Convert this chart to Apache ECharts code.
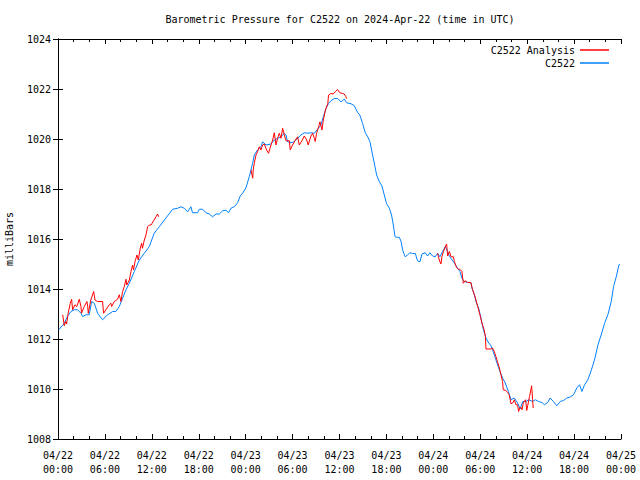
<!DOCTYPE html>
<html>
<head>
<meta charset="utf-8">
<script src="https://cdn.jsdelivr.net/npm/echarts@6/dist/echarts.min.js"></script>
<style>html,body{margin:0;padding:0;background:#fff}#c{width:640px;height:480px}</style>
</head>
<body>
<div id="c"></div>
<script>
var titleText = 'Barometric Pressure for C2522 on 2024-Apr-22 (time in UTC)';
var yName = 'milliBars';
var seriesNames = ['C2522 Analysis', 'C2522'];
var xTickLabels = ['04/22\n00:00','04/22\n06:00','04/22\n12:00','04/22\n18:00','04/23\n00:00','04/23\n06:00','04/23\n12:00','04/23\n18:00','04/24\n00:00','04/24\n06:00','04/24\n12:00','04/24\n18:00','04/25\n00:00'];

// hours since 04/22 00:00 UTC
var blueT = [0.1,0.8,1.2,1.66,2.1,2.5,2.94,3.15,3.58,4.0,4.3,4.64,5.07,5.7,6.35,7.0,7.4,7.84,8.26,8.7,9.12,9.76,10.4,11.04,11.68,12.3,12.95,13.6,14.2,14.66,15.3,15.73,16.15,16.57,17.0,17.2,17.85,18.07,18.5,18.93,19.35,19.77,20.2,20.63,21.05,21.48,21.82,22.12,22.55,22.97,23.3,23.6,24.04,24.46,24.89,25.1,25.52,25.96,26.16,26.6,27.24,27.66,28.08,28.52,28.94,29.16,29.36,29.8,30.2,30.64,31.07,31.5,31.92,32.35,32.78,33.2,33.63,33.93,34.27,34.6,34.9,35.33,35.75,36.2,36.4,36.6,36.9,37.47,37.9,38.3,38.6,38.95,39.3,39.6,39.9,40.23,40.54,40.75,41.1,41.43,41.73,42.0,42.38,42.66,42.88,43.1,43.3,43.64,43.86,44.1,44.4,44.7,45.0,45.35,45.7,45.9,46.08,46.3,46.55,46.97,47.26,47.56,47.9,48.25,48.54,48.85,49.18,49.53,49.83,50.05,50.4,50.7,51.1,51.4,51.66,51.96,52.4,52.8,52.95,53.25,53.45,53.8,54.1,54.4,54.7,55.0,55.39,55.7,56.0,56.44,56.85,57.2,57.6,57.93,58.36,58.78,59.1,59.43,59.86,60.2,60.7,61.05,61.47,61.9,62.2,62.63,62.94,63.36,63.79,64.23,64.65,65.07,65.5,65.93,66.35,66.7,67.0,67.34,67.76,68.2,68.64,69.06,69.5,69.9,70.32,70.75,71.05,71.4,71.73,71.85];
var blueP = [1012.37,1012.63,1012.9,1013.1,1013.17,1013.17,1013.03,1012.9,1012.97,1012.97,1013.5,1013.43,1013.03,1012.77,1012.97,1013.1,1013.1,1013.3,1013.63,1013.97,1014.23,1014.7,1015.16,1015.43,1015.7,1016.23,1016.49,1016.76,1017.0,1017.19,1017.23,1017.29,1017.23,1017.09,1017.29,1017.05,1017.05,1017.19,1017.19,1017.05,1017.0,1016.89,1017.0,1017.0,1017.13,1017.15,1017.05,1017.23,1017.29,1017.45,1017.72,1017.83,1018.05,1018.49,1019.03,1019.36,1019.56,1019.69,1019.89,1019.76,1019.8,1019.96,1020.03,1020.09,1020.23,1020.16,1019.89,1019.85,1019.89,1020.03,1020.16,1020.25,1020.23,1020.25,1020.23,1020.39,1020.56,1020.89,1021.22,1021.42,1021.53,1021.62,1021.62,1021.49,1021.53,1021.6,1021.45,1021.41,1021.33,1021.07,1020.96,1020.62,1020.25,1020.09,1019.89,1019.36,1018.89,1018.56,1018.29,1018.12,1017.76,1017.43,1017.23,1016.96,1016.56,1016.09,1016.07,1016.07,1015.92,1015.53,1015.29,1015.36,1015.45,1015.42,1015.42,1015.2,1015.1,1015.1,1015.4,1015.45,1015.32,1015.45,1015.32,1015.29,1015.43,1015.29,1015.5,1015.69,1015.5,1015.32,1015.16,1015.03,1014.83,1014.7,1014.43,1014.3,1014.26,1014.26,1014.03,1013.77,1013.5,1013.23,1012.83,1012.37,1012.07,1011.88,1011.72,1011.45,1011.17,1010.77,1010.44,1010.24,1009.9,1009.57,1009.64,1009.44,1009.2,1009.5,1009.5,1009.57,1009.5,1009.57,1009.5,1009.46,1009.37,1009.46,1009.64,1009.5,1009.33,1009.5,1009.54,1009.64,1009.68,1009.77,1010.04,1010.17,1009.9,1010.17,1010.37,1010.75,1011.2,1011.77,1012.2,1012.63,1012.97,1013.5,1014.1,1014.5,1014.96,1015.0];

// analysis (null = gap)
var redT = [0.6,0.8,1.0,1.1,1.3,1.57,1.74,1.87,2.17,2.4,2.72,2.94,3.0,3.36,3.7,3.8,3.87,4.2,4.56,4.73,5.07,5.7,5.83,6.13,6.56,6.77,6.86,7.2,7.62,7.84,8.05,8.26,8.48,8.7,8.8,9.12,9.33,9.54,9.66,9.85,10.1,10.27,10.52,10.7,10.8,11.04,11.25,11.46,11.68,11.9,12.23,12.53,12.74,12.87,
  18,
  24.68,24.9,24.96,25.1,25.32,25.52,25.74,25.96,26.16,26.38,26.68,26.93,27.24,27.45,27.66,27.88,28.08,28.3,28.52,28.73,28.94,29.16,29.58,29.7,30.0,30.35,30.64,30.86,31.2,31.5,31.8,32.0,32.35,32.56,32.78,32.9,33.07,33.33,33.5,33.76,33.93,34.2,34.5,34.6,34.9,35.2,35.45,35.75,36.05,36.4,36.6,36.83,36.9,
  42,
  48.54,48.76,48.97,49.1,49.3,49.56,49.7,49.83,50.05,50.27,50.56,50.7,50.8,50.98,51.2,51.4,51.66,51.83,52.05,52.4,52.8,53.0,53.25,53.45,53.67,53.96,54.22,54.5,54.66,54.73,55.37,55.58,55.79,56.0,56.2,56.44,56.65,56.85,56.94,57.28,57.5,57.7,57.93,58.15,58.36,58.57,58.78,58.9,59.1,59.2,59.35,59.5,59.8,59.95,60.07,60.3,60.4,60.57,60.7,60.77];
var redP = [1012.97,1012.53,1012.7,1012.6,1013.03,1013.43,1013.59,1013.17,1013.37,1013.3,1013.59,1013.3,1013.03,1013.3,1013.5,1013.3,1013.03,1013.56,1013.9,1013.56,1013.5,1013.5,1013.03,1013.17,1013.37,1013.43,1013.3,1013.5,1013.59,1013.77,1013.5,1013.9,1014.1,1014.39,1014.16,1014.36,1014.7,1014.96,1014.76,1015.1,1015.36,1015.16,1015.63,1015.83,1015.63,1015.96,1016.16,1016.49,1016.56,1016.56,1016.73,1016.89,1017.0,1016.89,
  null,
  1018.76,1018.43,1018.76,1019.03,1019.36,1019.49,1019.69,1019.56,1019.76,1019.8,1019.56,1019.43,1019.76,1019.96,1020.25,1019.76,1020.03,1020.23,1020.03,1020.43,1020.16,1019.93,1019.93,1019.56,1019.76,1019.96,1020.09,1019.76,1019.93,1020.12,1019.96,1019.76,1020.12,1020.23,1020.03,1019.9,1020.23,1020.49,1020.69,1020.36,1020.76,1021.16,1021.42,1021.76,1021.82,1021.8,1021.89,1021.98,1021.85,1021.82,1021.8,1021.69,1021.62,
  null,
  1015.43,1015.16,1015.0,1015.29,1015.5,1015.72,1015.8,1015.32,1015.5,1015.29,1015.29,1015.1,1015.0,1014.86,1014.79,1014.79,1014.7,1014.23,1014.33,1014.26,1014.26,1013.99,1013.77,1013.56,1013.3,1012.97,1012.63,1012.37,1012.1,1011.6,1011.6,1011.64,1011.5,1011.3,1011.1,1010.84,1010.57,1010.3,1009.97,1009.94,1009.86,1009.77,1009.41,1009.44,1009.57,1009.37,1009.37,1009.1,1009.27,1009.27,1009.17,1009.44,1009.57,1009.14,1009.34,1009.7,1009.84,1010.13,1009.57,1009.24];

function pairs(T, P) {
  return T.map(function (t, i) { return [t, P[i] === null ? '-' : P[i]]; });
}

var FONT = 'DejaVu Sans Mono';
var chart = echarts.init(document.getElementById('c'), null, {renderer: 'svg'});
var axisLine = {show: true, lineStyle: {color: '#000', width: 1}};
var xCommon = {
  type: 'value', min: 0, max: 72, interval: 6,
  axisLine: axisLine,
  axisTick: {show: true, inside: true, length: 5, lineStyle: {color: '#000'}},
  minorTick: {show: true, splitNumber: 3, length: 3, lineStyle: {color: '#000'}},
  splitLine: {show: false}, minorSplitLine: {show: false}
};
var yCommon = {
  type: 'value', min: 1008, max: 1024, interval: 2,
  axisLine: axisLine,
  axisTick: {show: true, inside: true, length: 5, lineStyle: {color: '#000'}},
  splitLine: {show: false}
};
chart.setOption({
  animation: false,
  backgroundColor: '#fff',
  grid: {left: 58, right: 19, top: 39, bottom: 41, containLabel: false, outerBoundsMode: 'none'},
  graphic: [{
    type: 'text', x: 340, y: 19,
    style: {text: titleText, font: '10px "' + FONT + '"', fill: '#000', textAlign: 'center', textVerticalAlign: 'middle'}
  }],
  legend: {
    orient: 'vertical', right: 31, top: 44, align: 'right', padding: 0,
    itemWidth: 29, itemHeight: 1.5, itemGap: 1, icon: 'rect',
    textStyle: {fontFamily: FONT, fontSize: 10, color: '#000', lineHeight: 12},
    data: seriesNames
  },
  xAxis: [
    Object.assign({}, xCommon, {
      position: 'bottom',
      axisLabel: {show: true, margin: 9, fontFamily: FONT, fontSize: 10, color: '#000', lineHeight: 14,
        formatter: function (v) { return xTickLabels[Math.round(v / 6)]; }}
    }),
    Object.assign({}, xCommon, {position: 'top', axisLabel: {show: false}})
  ],
  yAxis: [
    Object.assign({}, yCommon, {
      position: 'left',
      name: yName, nameLocation: 'middle', nameGap: 44, nameRotate: 90,
      nameTextStyle: {fontFamily: FONT, fontSize: 10, color: '#000'},
      axisLabel: {show: true, margin: 7, fontFamily: FONT, fontSize: 10, color: '#000',
        formatter: function (v) { return String(v); }}
    }),
    Object.assign({}, yCommon, {position: 'right', axisLabel: {show: false}})
  ],
  series: [
    {
      name: seriesNames[1], type: 'line', xAxisIndex: 0, yAxisIndex: 0,
      data: pairs(blueT, blueP), showSymbol: false, symbol: 'none',
      lineStyle: {color: '#0080ff', width: 1}, itemStyle: {color: '#0080ff'}
    },
    {
      name: seriesNames[0], type: 'line', xAxisIndex: 0, yAxisIndex: 0,
      data: pairs(redT, redP), showSymbol: false, symbol: 'none', connectNulls: false,
      lineStyle: {color: '#ff0000', width: 1}, itemStyle: {color: '#ff0000'}
    }
  ]
});
</script>
</body>
</html>
